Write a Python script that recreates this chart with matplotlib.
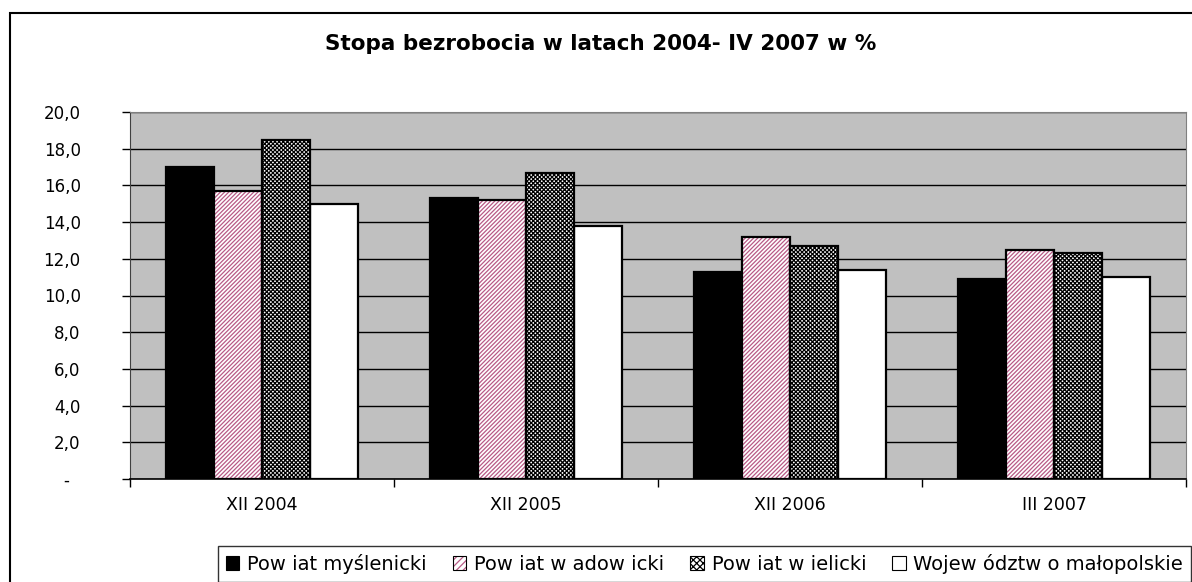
import matplotlib.pyplot as plt
import numpy as np
from matplotlib.patches import Patch, Rectangle

plt.rcParams['font.family'] = ['DejaVu Sans']
plt.rcParams['hatch.linewidth'] = 0.9

categories = ['XII 2004', 'XII 2005', 'XII 2006', 'III 2007']
series_names = ['Pow iat myślenicki', 'Pow iat w adow icki',
                'Pow iat w ielicki', 'Wojew ództw o małopolskie']
myslenicki = [17.0, 15.3, 11.3, 10.9]
wadowicki = [15.7, 15.2, 13.2, 12.5]
wielicki = [18.5, 16.7, 12.7, 12.3]
malopolskie = [15.0, 13.8, 11.4, 11.0]
y_ticks = [0, 2, 4, 6, 8, 10, 12, 14, 16, 18, 20]
y_labels = ['-  '] + [('%.1f' % v).replace('.', ',') for v in y_ticks[1:]]

# fill style for each series: (face, hatch, hatch colour)
styles = [('black', None, None),
          ('white', '////////', '#b85a86'),
          ('white', 'xxxxxxxx', 'black'),
          ('white', None, None)]

W, H = 1192, 582
fig = plt.figure(figsize=(W / 100, H / 100), dpi=100)
ax = fig.add_axes([130 / W, 1 - 479 / H, (1186 - 130) / W, (479 - 112) / H])
ax.set_facecolor('#c0c0c0')

x = np.arange(len(categories))
bw = 48 / 264
data = [myslenicki, wadowicki, wielicki, malopolskie]
handles = []
for i, vals in enumerate(data):
    face, hatch, hc = styles[i]
    pos = x + (i - 1.5) * bw
    if hatch:
        ax.bar(pos, vals, bw, color=face, edgecolor=hc, hatch=hatch, linewidth=0, zorder=3)
        ax.bar(pos, vals, bw, fill=False, edgecolor='black', linewidth=1.6, zorder=4)
        handles.append((Patch(facecolor=face, edgecolor=hc, hatch=hatch[:5], linewidth=0),
                        Patch(fill=False, edgecolor='black', linewidth=0.8)))
    else:
        ax.bar(pos, vals, bw, color=face, edgecolor='black', linewidth=1.6, zorder=3)
        handles.append(Patch(facecolor=face, edgecolor='black', linewidth=0.8))

ax.set_ylim(0, 20)
ax.set_xlim(-0.5, len(categories) - 0.5)
ax.set_yticks(y_ticks)
ax.set_yticklabels(y_labels, fontsize=12)
ax.yaxis.grid(True, color='black', linewidth=1.0, zorder=1)
ax.set_axisbelow(True)
ax.set_xticks(np.arange(len(categories) + 1) - 0.5)
ax.set_xticklabels([])
ax.set_xticks(x, minor=True)
ax.set_xticklabels(categories, minor=True, fontsize=12.5)
ax.tick_params(axis='x', which='minor', length=0, pad=12)
ax.tick_params(axis='x', which='major', length=6, width=1, direction='out')
ax.tick_params(axis='y', length=6, width=1, direction='out', pad=29.5)
ax.spines['top'].set_color('#808080')
ax.spines['right'].set_color('#808080')
ax.spines['left'].set_color('#404040')
ax.spines['bottom'].set_color('black')
ax.spines['bottom'].set_linewidth(1.2)

# outer chart frame
fig.patches.append(Rectangle((10 / W, -0.05), 1.1, 1 - 13 / H + 0.05, fill=False,
                             edgecolor='black', linewidth=1.5, transform=fig.transFigure))

fig.text(325 / W, 1 - 44 / H, 'Stopa bezrobocia w latach 2004- IV 2007 w %',
         ha='left', va='center', fontsize=15.5, fontweight='bold')


def make_legend(colsp):
    lg = fig.legend(handles, series_names, ncol=4, loc='upper left',
                    bbox_to_anchor=(218 / W, 1 - 546 / H), fontsize=14,
                    handlelength=0.7, handleheight=0.7, handletextpad=0.4,
                    columnspacing=colsp, borderpad=0.4, borderaxespad=0.0,
                    frameon=True, fancybox=False)
    lg.get_frame().set_edgecolor('black')
    lg.get_frame().set_linewidth(1.0)
    return lg


# stretch the gaps between legend entries so the box ends where the reference's does
colsp = 1.0
leg = make_legend(colsp)
fig.canvas.draw()
width = leg.get_window_extent().width
leg.remove()
colsp += ((1191 - 218) - width) / 3 / (14 * 100 / 72)
make_legend(max(colsp, 0.3))

fig.savefig('out.png', dpi=100)
